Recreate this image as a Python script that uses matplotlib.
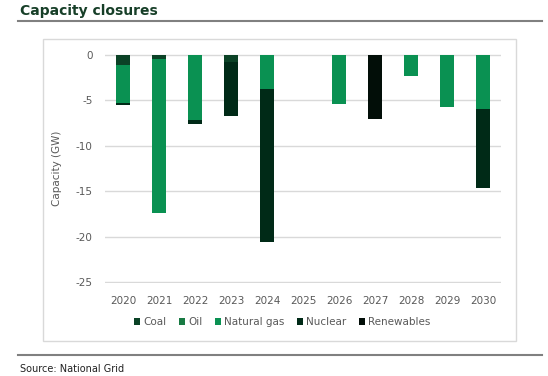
import numpy as np
import matplotlib.pyplot as plt
from matplotlib.patches import Rectangle
from matplotlib.lines import Line2D

# data (GW closed, negative)
years = ['2020', '2021', '2022', '2023', '2024', '2025', '2026', '2027', '2028', '2029', '2030']
coal = [1.1, 0.5, 0, 0.8, 0, 0, 0, 0, 0, 0, 0]
oil = [0, 0, 0, 0, 0, 0, 0, 0, 0, 0, 0]
gas = [4.2, 16.9, 7.2, 0, 3.7, 0, 5.4, 0, 2.3, 5.7, 6.0]
nuclear = [0.2, 0, 0.4, 5.9, 16.9, 0, 0, 0, 0, 0, 8.6]
renewables = [0, 0, 0, 0, 0, 0, 0, 7.0, 0, 0, 0]

series = [('Coal', coal, '#0b4226'), ('Oil', oil, '#187a43'),
          ('Natural gas', gas, '#0a9152'), ('Nuclear', nuclear, '#002a17'),
          ('Renewables', renewables, '#020e08')]

fig = plt.figure(figsize=(5.48, 3.76), dpi=100)

# outer chart box
fig.patches.append(Rectangle((0.0785, 0.093), 0.863, 0.803, transform=fig.transFigure,
                             facecolor='none', edgecolor='#d9d9d9', lw=1, zorder=0))
# rules
fig.add_artist(Line2D([0.033, 0.989], [0.944, 0.944], color='#808080', lw=1.5))
fig.add_artist(Line2D([0.033, 0.989], [0.056, 0.056], color='#808080', lw=1.5))

fig.text(0.036, 0.972, 'Capacity closures', fontsize=10, fontweight='bold',
         color='#173f28', va='center', ha='left')
fig.text(0.036, 0.018, 'Source: National Grid', fontsize=7, color='#222222',
         va='center', ha='left')

ax = fig.add_axes([0.1916, 0.2473, 0.7226, 0.6091])
ax.set_facecolor('none')
x = np.arange(len(years))
bottom = np.zeros(len(years))
for name, vals, col in series:
    v = -np.array(vals, dtype=float)
    ax.bar(x, v, 0.39, bottom=bottom, color=col, label=name, zorder=3)
    bottom += v

ax.set_xlim(-0.5, len(years) - 0.5)
ax.set_ylim(-25.1, 0.1)
ax.set_yticks([0, -5, -10, -15, -20, -25])
ax.set_yticklabels(['0', '-5', '-10', '-15', '-20', '-25'])
ax.set_xticks(x)
ax.set_xticklabels(years)
ax.tick_params(length=0, labelsize=7.5, colors='#595959', pad=9)
ax.tick_params(axis='y', pad=9)
ax.grid(axis='y', color='#d9d9d9', lw=1, zorder=0)
ax.set_axisbelow(True)
for s in ax.spines.values():
    s.set_visible(False)
ax.set_ylabel('Capacity (GW)', fontsize=7.5, color='#595959', labelpad=10)

ax.legend(loc='center', bbox_to_anchor=(0.515, 0.1436), bbox_transform=fig.transFigure,
          ncol=5, frameon=False, fontsize=7.5, labelcolor='#595959',
          handlelength=0.6, handleheight=0.6, handletextpad=0.3, columnspacing=1.2)

fig.savefig('out.png', dpi=100)
